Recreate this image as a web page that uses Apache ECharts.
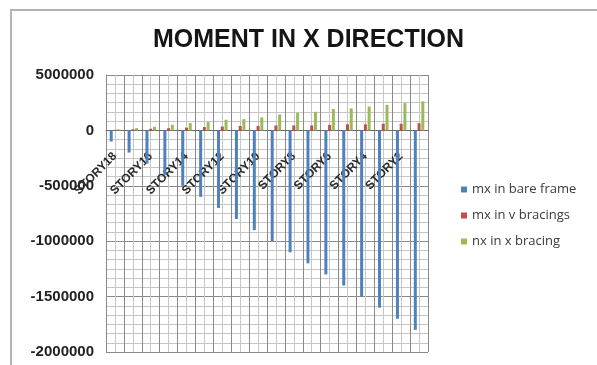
<!DOCTYPE html>
<html>
<head>
<meta charset="utf-8">
<script src="https://cdn.jsdelivr.net/npm/echarts@6/dist/echarts.min.js"></script>
<style>
  html, body { margin: 0; padding: 0; background: #fff; }
  #chart { width: 597px; height: 365px; }
</style>
</head>
<body>
<div id="chart"></div>
<script>
var stories = ["STORY18", "STORY17", "STORY16", "STORY15", "STORY14", "STORY13",
  "STORY12", "STORY11", "STORY10", "STORY9", "STORY8", "STORY7",
  "STORY6", "STORY5", "STORY4", "STORY3", "STORY2", "STORY1"];

// mx in bare frame
var bareFrame = [-100000, -200000, -300000, -400000, -500000, -600000,
  -700000, -800000, -900000, -1000000, -1100000, -1200000,
  -1300000, -1400000, -1500000, -1600000, -1700000, -1800000];

// mx in v bracings
var vBracing = [5000, 10000, 15000, 20000, 25000, 30000,
  35000, 40000, 40000, 45000, 45000, 45000,
  50000, 55000, 55000, 60000, 60000, 65000];

// nx in x bracing
var xBracing = [10000, 21000, 33000, 51000, 66000, 75000,
  96000, 102000, 117000, 144000, 159000, 168000,
  193000, 198000, 216000, 231000, 246000, 262000];

// tick labels as printed on the chart (top one reads 5000000)
var yTickValues = [-2000000, -1500000, -1000000, -500000, 0, 500000];
var yTickLabels = ["-2000000", "-1500000", "-1000000", "-500000", "0", "5000000"];

var yMin = -2000000, yMax = 500000;
var gridTop = 75, gridBottom = 13, chartH = 365;
// the category axis sits on the zero line, labels under it
var plotH = chartH - gridTop - gridBottom;
var zeroOffset = -plotH * (0 - yMin) / (yMax - yMin);

var chart = echarts.init(document.getElementById("chart"));

var option = {
  animation: false,
  backgroundColor: "#fff",
  title: {
    text: "MOMENT IN X DIRECTION",
    left: 148,
    top: 23,
    textStyle: {
      fontFamily: "Liberation Sans",
      fontSize: 25,
      fontWeight: "bold",
      color: "#151515",
    },
  },
  graphic: [
    {
      type: "rect",
      shape: { x: 11, y: 10, width: 800, height: 600 },
      style: { fill: "none", stroke: "#b4b4b4", lineWidth: 2 },
      silent: true,
    },
  ],
  legend: {
    orient: "vertical",
    left: 456,
    top: 178,
    itemWidth: 6,
    itemHeight: 6,
    itemGap: 13,
    icon: "rect",
    textStyle: {
      fontFamily: "Open Sans",
      fontSize: 13,
      color: "#3a3a3a",
    },
    data: ["mx in bare frame", "mx in v bracings", "nx in x bracing"],
  },
  grid: {
    left: 106,
    right: 169,
    top: gridTop,
    bottom: gridBottom,
    containLabel: false,
    outerBoundsMode: "none",
  },
  xAxis: [
    {
      type: "category",
      data: stories,
      position: "bottom",
      offset: zeroOffset,
      z: 1,
      axisLine: { onZero: false, lineStyle: { color: "#6a6a6a", width: 1 } },
      axisTick: { show: false },
      splitLine: { show: true, interval: 0, lineStyle: { color: "#8a8a8a", width: 1 } },
      axisLabel: {
        interval: 1,
        rotate: 45,
        margin: 24,
        fontFamily: "Liberation Sans",
        fontSize: 12,
        fontWeight: "bold",
        color: "#2a2a2a",
      },
    },
    {
      // light lines through the middle of each category
      type: "value",
      position: "top",
      min: 0,
      max: 36,
      interval: 1,
      z: 0,
      axisLine: { show: false, onZero: false },
      axisTick: { show: false },
      axisLabel: { show: false },
      splitLine: { show: true, lineStyle: { color: "#c6c6c6", width: 1 } },
    },
  ],
  yAxis: {
    type: "value",
    min: yMin,
    max: yMax,
    interval: 500000,
    axisLine: { show: true, onZero: false, lineStyle: { color: "#7a7a7a" } },
    axisTick: { show: false },
    splitLine: { show: true, lineStyle: { color: "#8a8a8a", width: 1 } },
    minorTick: { show: false, splitNumber: 6 },
    minorSplitLine: { show: true, lineStyle: { color: "#c6c6c6", width: 1 } },
    axisLabel: {
      margin: 12,
      fontFamily: "Liberation Sans",
      fontSize: 15,
      fontWeight: "bold",
      color: "#222",
      formatter: function (value) {
        var i = yTickValues.indexOf(value);
        return i >= 0 ? yTickLabels[i] : "";
      },
    },
  },
  series: [
    {
      name: "mx in bare frame",
      type: "bar",
      xAxisIndex: 0,
      barWidth: 3,
      barGap: "25%",
      itemStyle: { color: "#4f81bd" },
      data: bareFrame,
    },
    {
      name: "mx in v bracings",
      type: "bar",
      xAxisIndex: 0,
      barWidth: 3,
      barGap: "25%",
      itemStyle: { color: "#c0504d" },
      data: vBracing,
    },
    {
      name: "nx in x bracing",
      type: "bar",
      xAxisIndex: 0,
      barWidth: 3,
      barGap: "25%",
      itemStyle: { color: "#9bbb59" },
      data: xBracing,
    },
  ],
};

chart.setOption(option);
</script>
</body>
</html>
